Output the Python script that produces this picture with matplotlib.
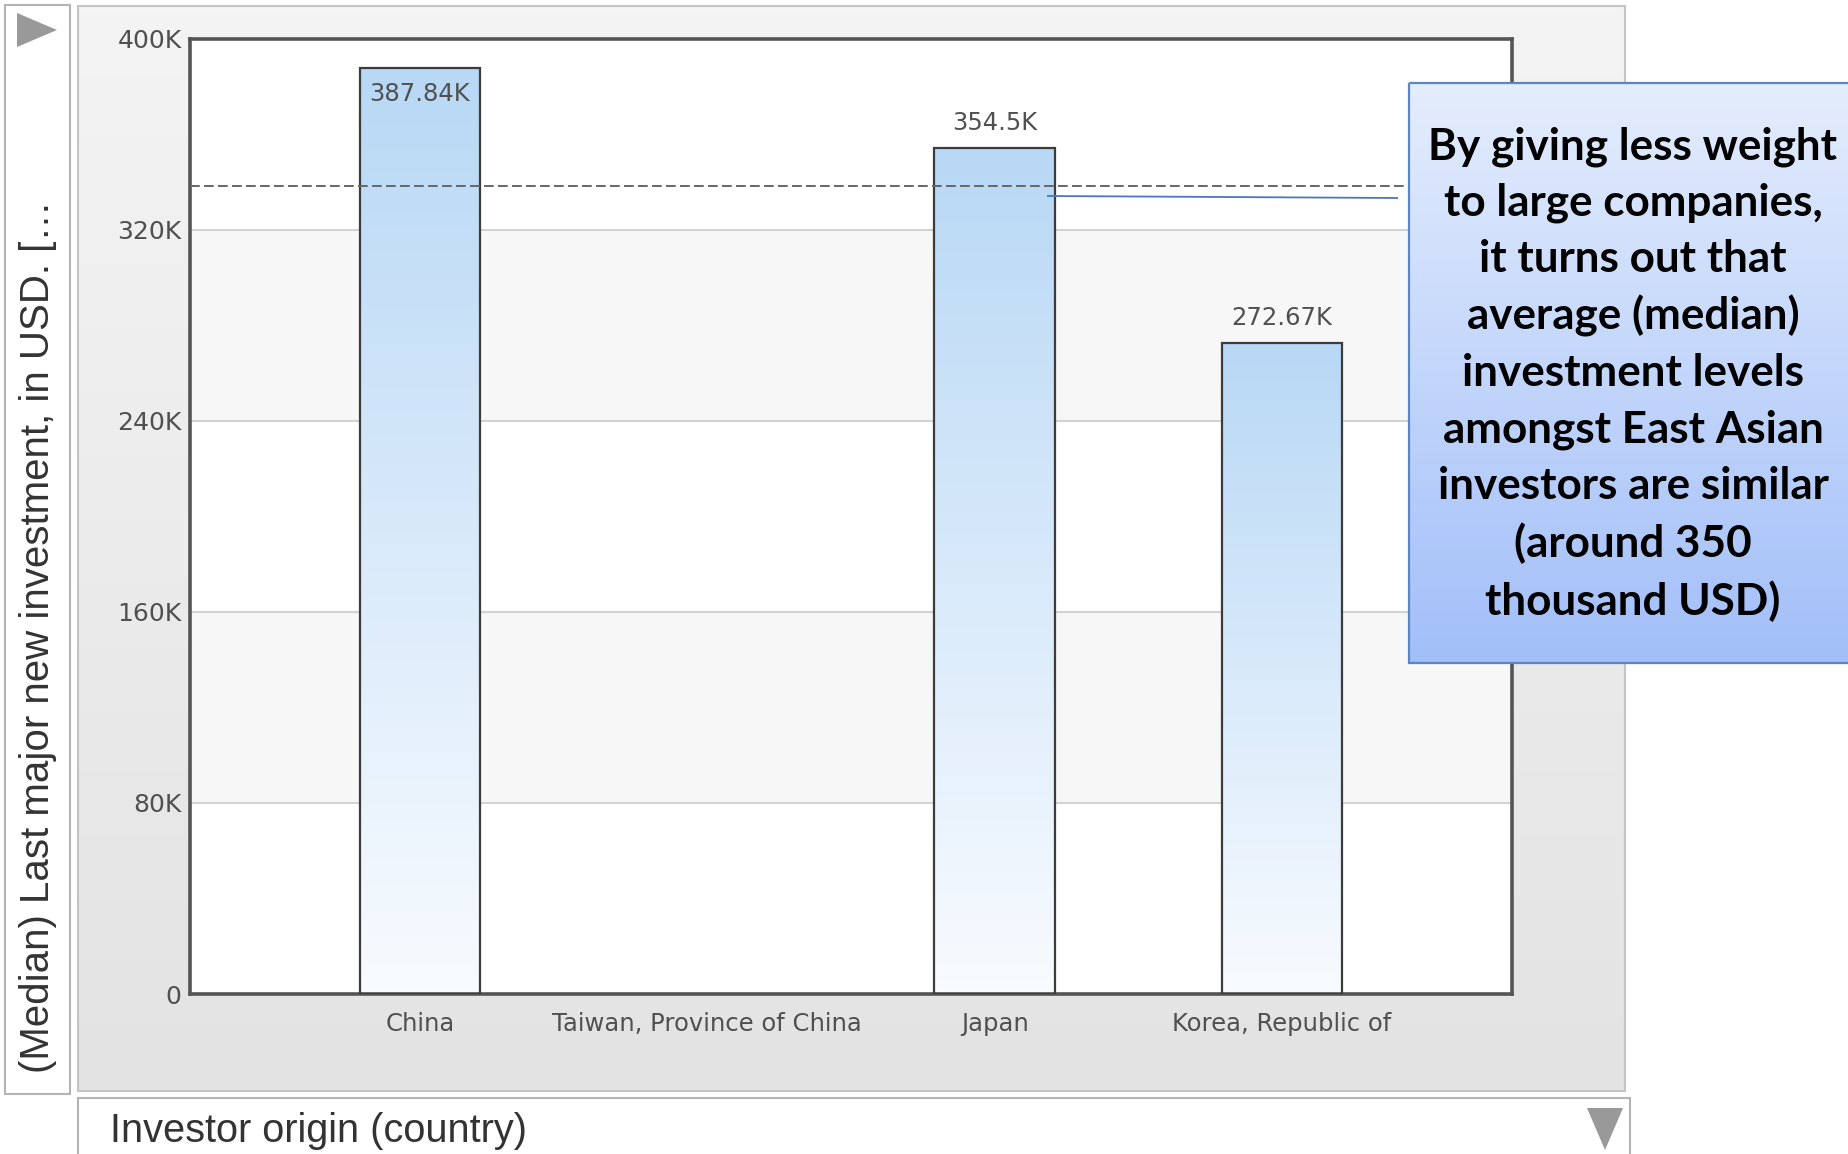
import numpy as np
import matplotlib
matplotlib.use("Agg")
import matplotlib.pyplot as plt
from matplotlib.patches import Rectangle, Polygon
from matplotlib.colors import LinearSegmentedColormap

# ---------------- data ----------------
categories = ["China", "Taiwan, Province of China", "Japan", "Korea, Republic of"]
values = [387840, np.nan, 354500, 272670]
value_labels = ["387.84K", "", "354.5K", "272.67K"]
reference_value = 338340           # dashed average line
y_ticks = [0, 80000, 160000, 240000, 320000, 400000]
y_tick_labels = ["0", "80K", "160K", "240K", "320K", "400K"]
y_label = "(Median) Last major new investment, in USD. [\u2026"
x_label = "Investor origin (country)"
note_text = ("By giving less weight\nto large companies,\nit turns out that\n"
             "average (median)\ninvestment levels\namongst East Asian\n"
             "investors are similar\n(around 350\nthousand USD)")

W, H = 1849, 1154
fig = plt.figure(figsize=(W / 100, H / 100), dpi=100)
fig.patch.set_facecolor("white")

# background decoration axes in pixel coordinates (y down)
bg = fig.add_axes([0, 0, 1, 1])
bg.set_xlim(0, W)
bg.set_ylim(H, 0)
bg.axis("off")
bg.set_zorder(0)

# left y-label box
bg.add_patch(Rectangle((5, 5), 65, 1089, facecolor="white", edgecolor="#b4b4b4", lw=1.5))
bg.add_patch(Polygon([[17, 13], [17, 47], [57, 30]], closed=True, facecolor="#999999", edgecolor="none"))
bg.text(38, 637, y_label, rotation=90, ha="center", va="center",
        fontsize=29, family="Liberation Sans", color="#333333")

# gray panel with vertical gradient
grad = np.linspace(0, 1, 256).reshape(-1, 1)
panel_cmap = LinearSegmentedColormap.from_list("panel", ["#f4f4f4", "#e3e3e3"])
bg.imshow(grad, cmap=panel_cmap, extent=(78, 1625, 1091, 6), aspect="auto", zorder=0)
bg.add_patch(Rectangle((78, 6), 1547, 1085, facecolor="none", edgecolor="#c4c4c4", lw=1.5, zorder=1))

# x-label box
bg.add_patch(Rectangle((78, 1098), 1552, 80, facecolor="white", edgecolor="#b4b4b4", lw=1.5, zorder=1))
bg.add_patch(Polygon([[1587, 1108], [1623, 1108], [1605, 1150]], closed=True, facecolor="#999999", edgecolor="none", zorder=2))
bg.text(110, 1131, x_label, ha="left", va="center", fontsize=28.6,
        family="Liberation Sans", color="#333333", zorder=2)

# ---------------- main axes ----------------
L, R, T, B = 190, 1512, 39, 994
ax = fig.add_axes([L / W, 1 - B / H, (R - L) / W, (B - T) / H])
ax.set_zorder(2)
ax.set_facecolor("white")
ax.set_xlim(-0.8, 3.8)
ax.set_ylim(0, 400000)

# alternating bands + gridlines
for i in range(len(y_ticks) - 1):
    if i % 2 == 1:
        ax.axhspan(y_ticks[i], y_ticks[i + 1], facecolor="#f7f7f7", edgecolor="none", zorder=0)
for t in y_ticks[1:-1]:
    ax.axhline(t, color="#d2d2d2", lw=1.5, zorder=1)

x = np.arange(len(categories))
bars = ax.bar(x, np.nan_to_num(values), width=0.42, facecolor="none",
              edgecolor="#3c3c3c", lw=1.6, zorder=3)

bar_cmap = LinearSegmentedColormap.from_list("bar", ["#b8d8f5", "#f8fbff"])
for b, v in zip(bars, values):
    if np.isnan(v):
        b.set_visible(False)
        continue
    x0, w, h = b.get_x(), b.get_width(), b.get_height()
    im = ax.imshow(grad, cmap=bar_cmap, extent=(x0, x0 + w, 0, h),
                   aspect="auto", zorder=2, interpolation="bilinear")
    im.set_clip_path(b)

# value labels
for xi, v, lab in zip(x, values, value_labels):
    if np.isnan(v):
        continue
    off = -19 if v > 0.95 * 400000 else 18
    ax.annotate(lab, (xi, v), xytext=(0, off), textcoords="offset points",
                ha="center", va="center", fontsize=17.5, color="#505050", zorder=5)

# reference dashed line
ax.axhline(reference_value, color="#666666", lw=1.4, dashes=(5, 2.2), zorder=4)

ax.set_xticks(x)
ax.set_xticklabels(categories)
ax.set_yticks(y_ticks)
ax.set_yticklabels(y_tick_labels)
ax.tick_params(axis="x", length=0, pad=13, labelsize=17.5, labelcolor="#505050")
ax.tick_params(axis="y", length=0, pad=6, labelsize=18, labelcolor="#505050")
for s in ax.spines.values():
    s.set_color("#555555")
    s.set_linewidth(2.6)

# ---------------- callout ----------------
ov = fig.add_axes([0, 0, 1, 1])
ov.set_xlim(0, W)
ov.set_ylim(H, 0)
ov.axis("off")
ov.set_zorder(5)
ov.patch.set_visible(False)
ov.plot([1047, 1398], [196, 198], color="#4a78bf", lw=1.3, solid_capstyle="butt")
note_cmap = LinearSegmentedColormap.from_list("note", ["#e4edfd", "#a2bff9"])
ov.imshow(grad, cmap=note_cmap, extent=(1409, 1860, 663, 83), aspect="auto", zorder=1)
ov.add_patch(Rectangle((1409, 83), 460, 580, facecolor="none", edgecolor="#5a86c5", lw=1.6, zorder=2))
ov.text(1633, 374, note_text, ha="center", va="center", fontsize=31.7,
        family="Lato", weight="bold", color="black", linespacing=1.48, zorder=3)
ov.set_xlim(0, W)
ov.set_ylim(H, 0)

fig.savefig("out.png", dpi=100, facecolor="white")
